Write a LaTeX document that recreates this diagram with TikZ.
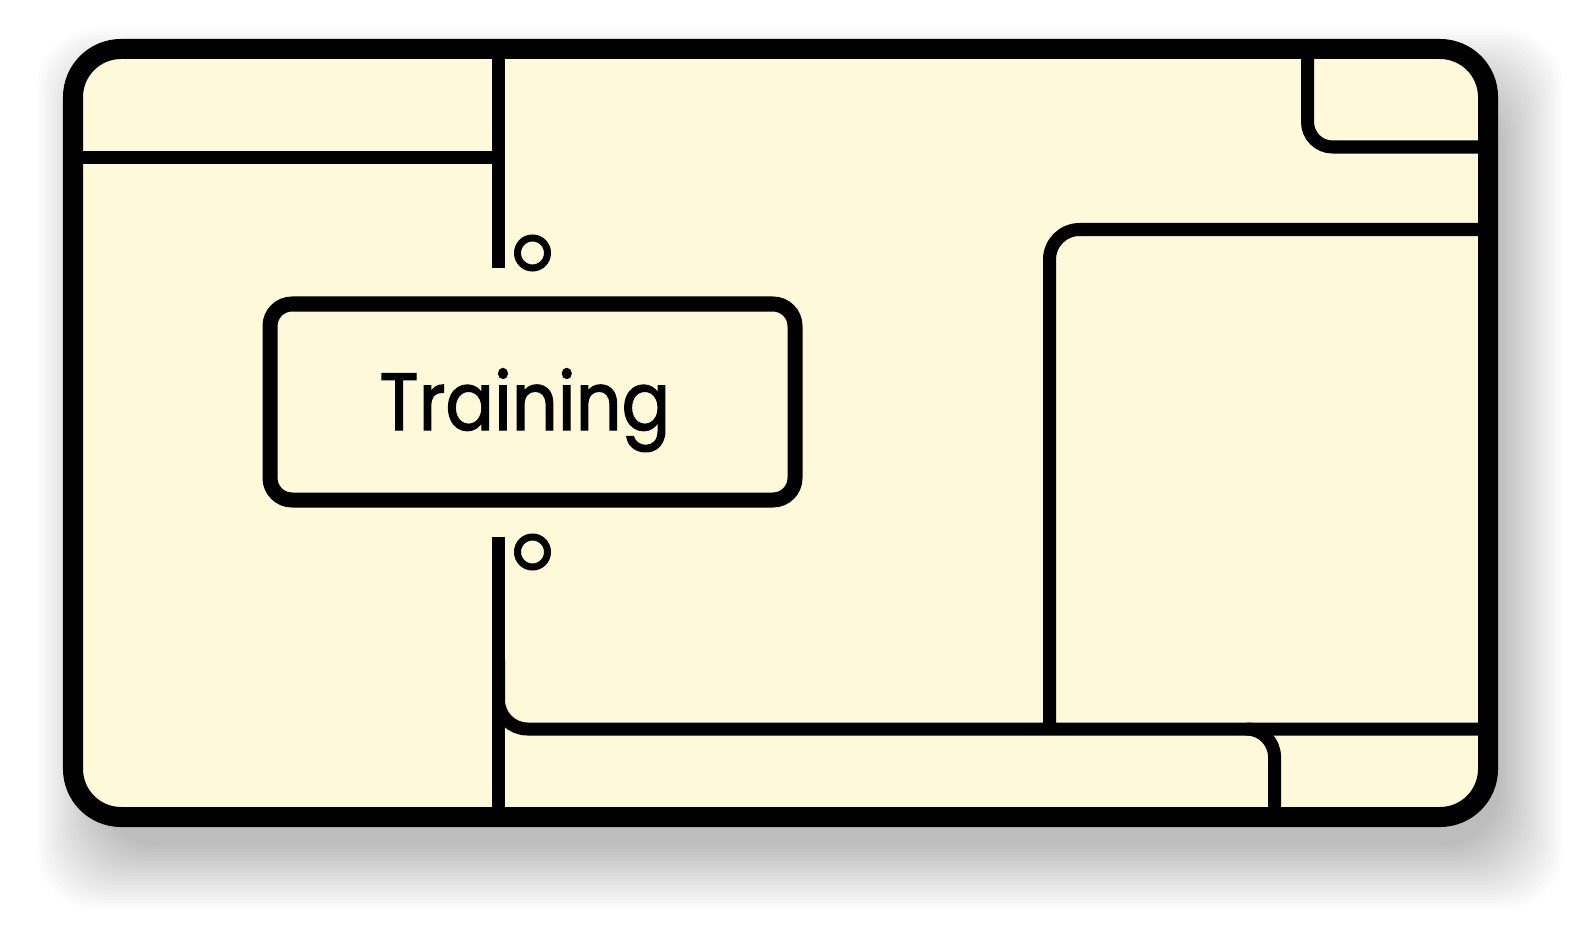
\documentclass[tikz,border=0pt]{standalone}
\usepackage{fontspec}
\setmainfont{Poppins}
\newfontfamily\labelfont[FakeBold=1.6, FakeStretch=0.89]{Poppins}
\definecolor{cream}{RGB}{254,249,217}
\tikzset{
  frameline/.style={line width=0.2cm, rounded corners=0.48cm},
  wire/.style={line width=0.13cm},
  port/.style={circle, draw, line width=0.07cm, minimum size=0.3cm, inner sep=0pt},
}
\begin{document}
\begin{tikzpicture}[x=0.01cm, y=-0.01cm]
    \useasboundingbox (0,0) rectangle (1586,940);
    \fill [white] (0,0) rectangle (1586,940);
    % soft shadow under the frame
    \foreach \s in {0,3,...,63}
      \fill [black, opacity=0.012, rounded corners=0.6cm] (100-\s,92-\s) rectangle (1500+\s,846+\s);
    \filldraw [frameline, fill=cream] (73,49) rectangle (1488,817);
    \draw[wire] (1246.5,729) arc[start angle=90, end angle=0, radius=0.28cm] -- (1274.5,817);
    \draw[wire,rounded corners=0.29cm] (498.5,660) -- (498.5,729) -- (1488,729);
    \draw[wire,rounded corners=0.25cm] (1307.5,49) -- (1307.5,147) -- (1488,147);
    \draw[wire,rounded corners=0.3cm] (1488,229.5) -- (1049.5,229.5) -- (1049.5,729);
    \draw[wire] (73,157.5) -- (498.5,157.5);
    \draw[wire] (498.5,49) -- (498.5,268);
    \draw[wire] (498.5,537) -- (498.5,817);
    \node[port] (in) at (532.5,253) {};
    \node[port] (out) at (532.5,552) {};
    \draw[line width=0.15cm, rounded corners=0.22cm] (270,304) rectangle (795,500);
    \node[anchor=base, font=\labelfont\fontsize{23}{28}\selectfont, inner sep=0pt] (training) at (525,430) {Training};
\end{tikzpicture}
\end{document}
